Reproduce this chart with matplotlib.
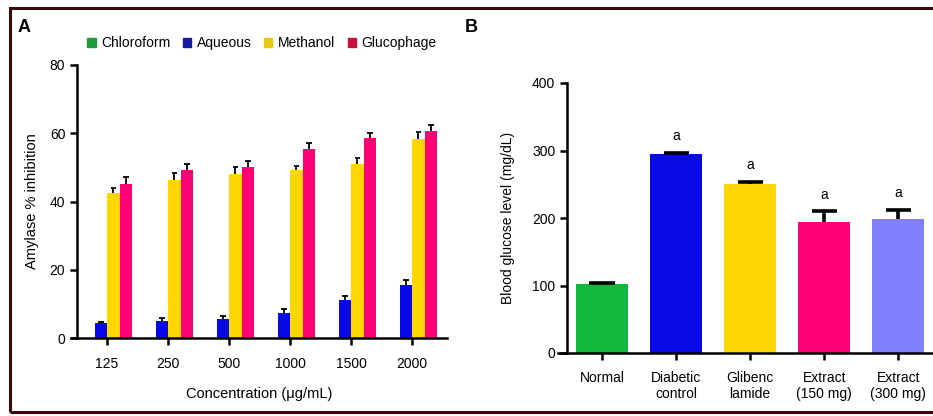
import numpy as np
import matplotlib.pyplot as plt
from matplotlib.patches import Patch, Rectangle

plt.rcParams["font.family"] = ["Liberation Sans", "DejaVu Sans"]

# Panel A data
conc = ["125", "250", "500", "1000", "1500", "2000"]
series = ["Chloroform", "Aqueous", "Methanol", "Glucophage"]
chloroform = [0, 0, 0, 0, 0, 0]
chloroform_err = [0, 0, 0, 0, 0, 0]
aqueous = [4.5, 5.0, 5.6, 7.3, 11.0, 15.6]
aqueous_err = [0.3, 0.8, 0.8, 1.1, 1.2, 1.5]
methanol = [42.5, 46.4, 48.2, 49.1, 50.9, 58.3]
methanol_err = [1.5, 1.9, 1.9, 1.3, 1.9, 2.2]
glucophage = [45.2, 49.1, 50.1, 55.5, 58.6, 60.8]
glucophage_err = [1.9, 1.9, 1.9, 1.6, 1.5, 1.7]

# Panel B data
groups = ["Normal", "Diabetic\ncontrol", "Glibenc\nlamide", "Extract\n(150 mg)", "Extract\n(300 mg)"]
glucose = [102, 295, 250, 194, 198]
glucose_err = [1.5, 1.5, 4, 16, 14]
letters = ["", "a", "a", "a", "a"]

colors_a = ["#12b43c", "#0808e6", "#ffd700", "#ff0077"]
legend_colors = ["#1e9a3c", "#1a1aa0", "#e8c810", "#c8103c"]
colors_b = ["#12b83c", "#0a0ae8", "#ffd700", "#ff0077", "#8080ff"]

W, H = 933, 416
fig = plt.figure(figsize=(W / 100, H / 100), dpi=100)


def frac(x0, x1, ytop, ybot):
    return [x0 / W, 1 - ybot / H, (x1 - x0) / W, (ybot - ytop) / H]


def style_axes(ax, yaxis_x):
    for s in ["top", "right"]:
        ax.spines[s].set_visible(False)
    ax.spines["left"].set_position(("data", yaxis_x))
    ax.spines["left"].set_linewidth(1.8)
    ax.spines["bottom"].set_linewidth(1.8)
    ax.tick_params(axis="both", width=1.8, length=5, direction="out", labelsize=10)


def upper_err(ax, xs, tops, errs, cap, lw):
    # one-sided error bars, cap on top only
    for xi, t, e in zip(xs, tops, errs):
        if e <= 0:
            continue
        ax.vlines(xi, t, t + e, color="black", lw=lw, zorder=3)
        ax.hlines(t + e, xi - cap, xi + cap, color="black", lw=lw, zorder=3)


# ---- Panel A ----
axA = fig.add_axes(frac(71, 447, 65, 338))
x = np.arange(len(conc))
w = 0.205
vals = [chloroform, aqueous, methanol, glucophage]
errs = [chloroform_err, aqueous_err, methanol_err, glucophage_err]
for i, (v, e) in enumerate(zip(vals, errs)):
    xs = x + (i - 1.5) * w
    axA.bar(xs, v, w, color=colors_a[i])
    upper_err(axA, xs, v, e, 0.045, 1.3)
axA.set_xlim(-0.59, 5.57)
axA.set_ylim(0, 80)
axA.set_yticks([0, 20, 40, 60, 80])
axA.set_xticks(x)
axA.set_xticklabels(conc)
style_axes(axA, -0.49)
axA.tick_params(axis="x", pad=9)
axA.set_xlabel("Concentration (\u03bcg/mL)", fontsize=10.5, labelpad=11)
axA.set_ylabel("Amylase % inhibition", fontsize=10.5, labelpad=8)

handles = [Patch(color=c) for c in legend_colors]
fig.legend(handles, series, loc="center", bbox_to_anchor=(262 / W, 1 - 43 / H),
           ncol=4, frameon=False, fontsize=10, handlelength=0.6, handleheight=0.6,
           handletextpad=0.4, columnspacing=0.9)
fig.text(24 / W, 1 - 27 / H, "A", fontsize=13, fontweight="bold", va="center", ha="center")

# ---- Panel B ----
axB = fig.add_axes(frac(558, 933, 83, 353))
xb = np.arange(len(groups))
axB.bar(xb, glucose, 0.70, color=colors_b)
upper_err(axB, xb, glucose, glucose_err, 0.17, 2.6)
for xi, v, e, t in zip(xb, glucose, glucose_err, letters):
    if t:
        axB.text(xi, v + e + 14, t, ha="center", va="bottom", fontsize=10)
axB.set_xlim(-0.595, 4.47)
axB.set_ylim(0, 400)
axB.set_yticks([0, 100, 200, 300, 400])
axB.set_xticks(xb)
axB.set_xticklabels(groups)
style_axes(axB, -0.473)
axB.tick_params(axis="x", pad=8)
axB.set_ylabel("Blood glucose level (mg/dL)", fontsize=10, labelpad=12)
fig.text(471 / W, 1 - 27 / H, "B", fontsize=13, fontweight="bold", va="center", ha="center")

# outer frame
fig.patches.append(Rectangle((10 / W, 4 / H), 1.2, 1 - 12 / H, transform=fig.transFigure,
                             fill=False, edgecolor="#3c0a0a", linewidth=2.2))

fig.savefig("out.png", dpi=100)
